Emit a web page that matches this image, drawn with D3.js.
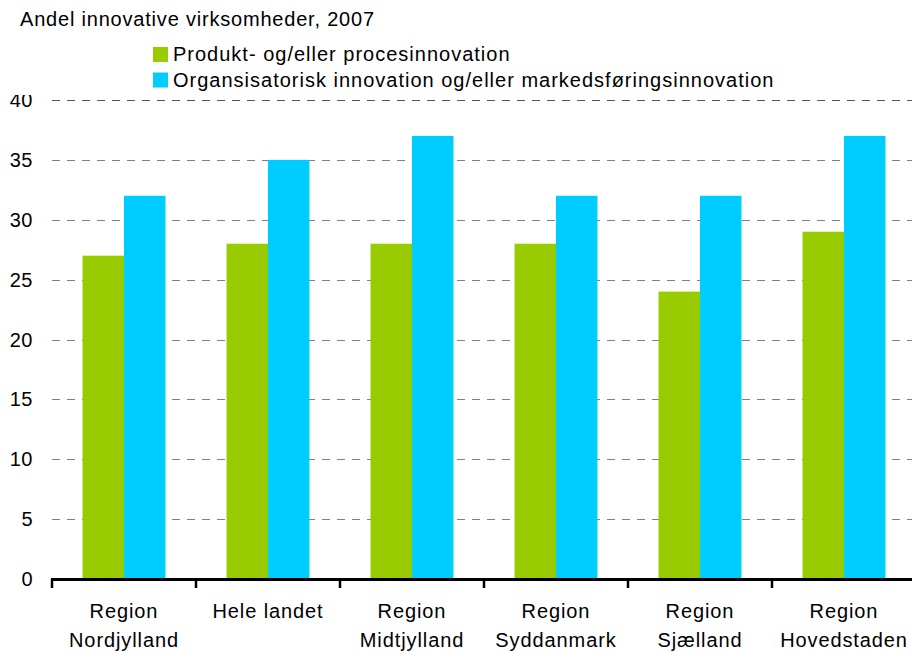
<!DOCTYPE html>
<html>
<head>
<meta charset="utf-8">
<script src="https://cdn.jsdelivr.net/npm/d3@7/dist/d3.min.js"></script>
<style>
  html, body { margin: 0; padding: 0; background: #fff; }
  svg { display: block; }
  text { font-family: "Liberation Sans", Arial, sans-serif; fill: #000; }
</style>
</head>
<body>
<svg id="chart" width="912" height="652"></svg>
<script>
// Regions (two-line labels) and share of innovative firms, 2007 (%)
const regions = [
  ["Region", "Nordjylland"],
  ["Hele landet"],
  ["Region", "Midtjylland"],
  ["Region", "Syddanmark"],
  ["Region", "Sjælland"],
  ["Region", "Hovedstaden"]
];
const seriesNames = [
  "Produkt- og/eller procesinnovation",
  "Organsisatorisk innovation og/eller markedsføringsinnovation"
];
const produktValues = [27, 28, 28, 28, 24, 29];
const organisationValues = [32, 35, 37, 32, 32, 37];
const yTicks = [0, 5, 10, 15, 20, 25, 30, 35, 40];
const title = "Andel innovative virksomheder, 2007";

const colors = ["#99CC00", "#00CCFF"];
const catKeys = regions.map(r => r.join(" "));
const seriesValues = [produktValues, organisationValues];

const svg = d3.select("#chart");
const plotLeft = 52, plotRight = 916, plotTop = 100, plotBottom = 579;

const x0 = d3.scaleBand().domain(catKeys).range([plotLeft, plotRight])
  .paddingInner(0.424).paddingOuter(0.212);
const x1 = d3.scaleBand().domain([0, 1]).range([0, x0.bandwidth()]);
const y = d3.scaleLinear().domain([0, 40]).range([plotBottom, plotTop]);

// dashed horizontal gridlines
svg.append("g")
  .selectAll("line")
  .data(yTicks.filter(t => t > 0))
  .join("line")
  .attr("x1", plotLeft).attr("x2", 912)
  .attr("y1", d => Math.round(y(d)) + 0.5)
  .attr("y2", d => Math.round(y(d)) + 0.5)
  .attr("stroke", d => d === 40 ? "#555" : "#808080")
  .attr("stroke-width", 1.2)
  .attr("stroke-dasharray", "8,7");

// y tick labels, clipped at the top like the plot frame
svg.append("defs").append("clipPath").attr("id", "yclip")
  .append("rect").attr("x", 0).attr("y", 95).attr("width", 60).attr("height", 520);
svg.append("g").attr("clip-path", "url(#yclip)")
  .selectAll("text")
  .data(yTicks)
  .join("text")
  .attr("x", 33)
  .attr("y", d => y(d))
  .attr("dy", "0.35em")
  .attr("text-anchor", "end")
  .style("font-size", "20px")
  .style("letter-spacing", "0.5px")
  .text(d => d);

// bars
const groups = svg.append("g").selectAll("g")
  .data(catKeys)
  .join("g")
  .attr("transform", d => `translate(${x0(d)},0)`);
groups.selectAll("rect")
  .data((d, i) => seriesValues.map((vals, s) => ({ s, v: vals[i] })))
  .join("rect")
  .attr("x", d => x1(d.s))
  .attr("width", x1.bandwidth())
  .attr("y", d => y(d.v))
  .attr("height", d => y(0) - y(d.v))
  .attr("fill", d => colors[d.s]);

// x axis line and category boundary ticks
const half = (x0.step() - x0.bandwidth()) / 2;
svg.append("line")
  .attr("x1", plotLeft - 1).attr("x2", 912)
  .attr("y1", plotBottom + 0.5).attr("y2", plotBottom + 0.5)
  .attr("stroke", "#000").attr("stroke-width", 3);
svg.append("g").selectAll("line")
  .data(catKeys)
  .join("line")
  .attr("x1", d => x0(d) - half).attr("x2", d => x0(d) - half)
  .attr("y1", plotBottom).attr("y2", plotBottom + 9)
  .attr("stroke", "#000").attr("stroke-width", 2.5);

// category labels
const labels = svg.append("g").selectAll("text")
  .data(regions)
  .join("text")
  .attr("text-anchor", "middle")
  .style("font-size", "20px")
  .style("letter-spacing", "0.9px")
  .attr("transform", (d, i) => `translate(${x0(catKeys[i]) + x0.bandwidth() / 2},0)`);
labels.selectAll("tspan")
  .data(d => d)
  .join("tspan")
  .attr("x", 0)
  .attr("y", (d, j) => 618 + j * 29)
  .text(d => d);

// title
svg.append("text")
  .attr("x", 20).attr("y", 26)
  .style("font-size", "20px")
  .style("letter-spacing", "0.8px")
  .text(title);

// legend
const legend = svg.append("g").selectAll("g")
  .data(seriesNames)
  .join("g")
  .attr("transform", (d, i) => `translate(153,${47 + i * 25.5})`);
legend.append("rect")
  .attr("width", 15).attr("height", 15)
  .attr("fill", (d, i) => colors[i]);
legend.append("text")
  .attr("x", 20).attr("y", 14)
  .style("font-size", "20px")
  .style("letter-spacing", "1px")
  .text(d => d);
</script>
</body>
</html>
